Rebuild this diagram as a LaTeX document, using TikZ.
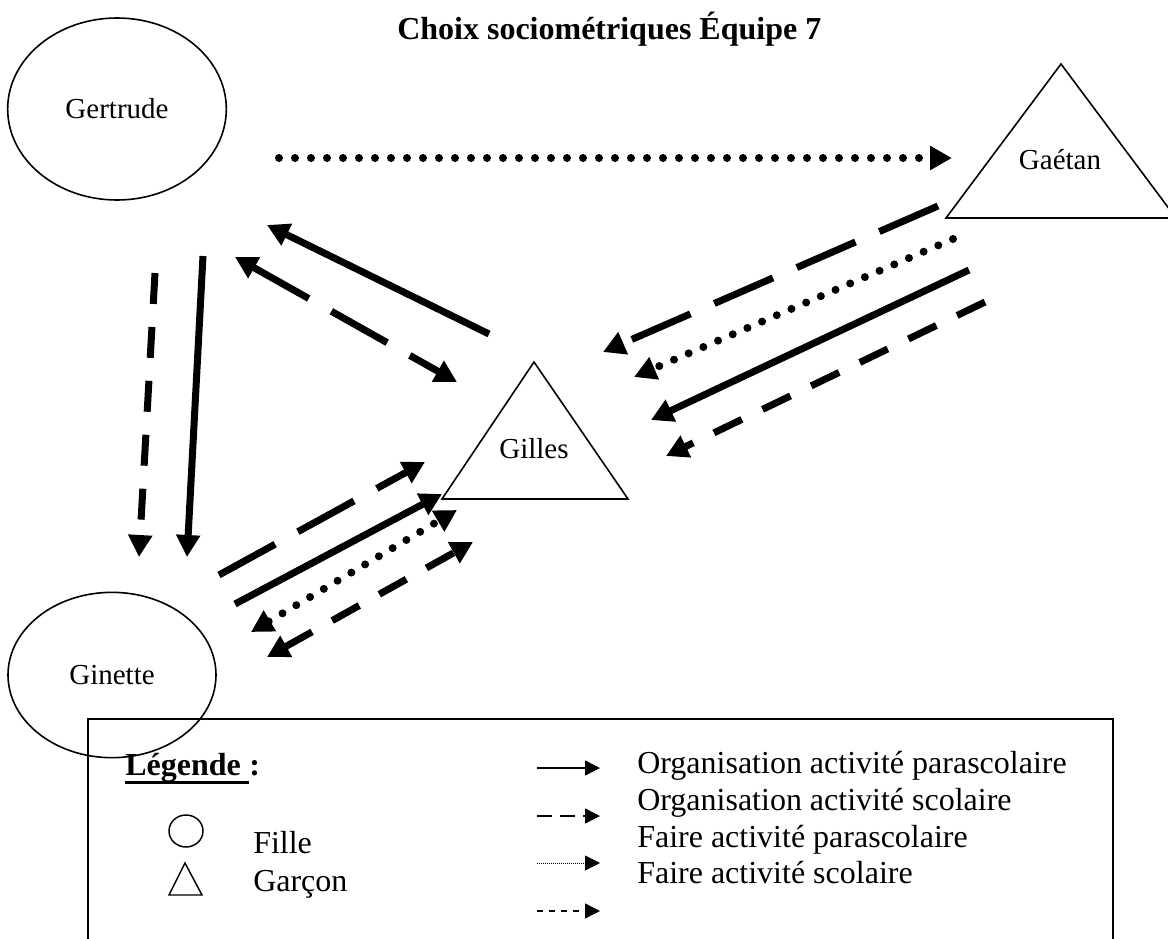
\documentclass[tikz,border=0pt]{standalone}
\usepackage{fontspec}
\setmainfont{Liberation Serif}
\usetikzlibrary{arrows.meta,shapes.geometric}
\tikzset{
  nom/.style={font=\fontsize{21.75}{26}\selectfont, inner sep=0pt},
  fille/.style={nom, draw, ellipse, line width=1.2pt},
  bord/.style={line width=1.2pt, line join=miter},
  texte/.style={anchor=base west, inner sep=0pt, font=\fontsize{24}{27.6}\selectfont},
  gras/.style={texte, font=\bfseries\fontsize{24}{28}\selectfont},
  lien/.style={line width=5.25pt, -{Triangle[length=16.5pt,width=17.25pt]}},
  double/.style={line width=5.25pt, {Triangle[length=16.5pt,width=17.25pt]}-{Triangle[length=16.5pt,width=17.25pt]}},
  tirets/.style={dash pattern=on 48pt off 19.5pt},
  courts/.style={dash pattern=on 23.25pt off 17.25pt},
  points/.style={line width=6pt, line cap=round, dash pattern=on 0pt off 12pt},
  echant/.style={line width=1.1pt, -{Triangle[length=11.25pt,width=11.25pt]}}
}
\begin{document}
\begin{tikzpicture}[x=0.75pt,y=-0.75pt]
  \useasboundingbox (0,0) rectangle (1168,939);
  \node[gras] (titre) at (397,39) {Choix sociométriques Équipe 7};

  % les eleves
  \node[fille, minimum width=164pt, minimum height=136.5pt] (gertrude) at (117,109) {Gertrude};
  \node[fille, minimum width=156pt, minimum height=124pt] (ginette) at (112,675) {Ginette};
  \draw[bord] (534,362) -- (628,499) -- (442,499) -- cycle;
  \node[nom] (gilles) at (534,449) {Gilles};
  \draw[bord] (1061,64) -- (1176,218) -- (946,218) -- cycle;
  \node[nom] (gaetan) at (1060,160) {Gaétan};

  % extremites des fleches
  \coordinate (A1) at (279,158);  \coordinate (B1) at (952,158);
  \coordinate (A2) at (938,206);  \coordinate (B2) at (603,352);
  \coordinate (A3) at (953,239);  \coordinate (B3) at (634,377);
  \coordinate (A4) at (969,270);  \coordinate (B4) at (651,420);
  \coordinate (A5) at (985,302);  \coordinate (B5) at (666,456);
  \coordinate (A6) at (489,334);  \coordinate (B6) at (267,225);
  \coordinate (A7) at (235,257);  \coordinate (B7) at (457,382);
  \coordinate (A8) at (155,273);  \coordinate (B8) at (139,557);
  \coordinate (A9) at (203,256);  \coordinate (B9) at (187,557);
  \coordinate (A10) at (219,575); \coordinate (B10) at (425,462);
  \coordinate (A11) at (235,604); \coordinate (B11) at (442,494);
  \coordinate (A12) at (251,632); \coordinate (B12) at (457,510);
  \coordinate (A13) at (267,657); \coordinate (B13) at (473,542);

  \draw[lien, points] (A1) -- (B1);
  \draw[lien, tirets] (A2) -- (B2);
  \draw[lien, points] (A3) -- (B3);
  \draw[lien] (A4) -- (B4);
  \draw[lien, courts] (A5) -- (B5);
  \draw[lien] (A6) -- (B6);
  \draw[double, tirets] (A7) -- (B7);
  \draw[lien, courts] (A8) -- (B8);
  \draw[lien] (A9) -- (B9);
  \draw[lien, tirets] (A10) -- (B10);
  \draw[lien] (A11) -- (B11);
  \draw[double, points] (A12) -- (B12);
  \draw[double, courts] (A13) -- (B13);

  % legende
  \draw[line width=1.5pt] (88,945) -- (88,719) -- (1113,719) -- (1113,945);
  \node[gras] (legende) at (125,775) {Légende\kern6pt};
  \node[gras] (deuxpts) at (legende.base east) {:};
  \draw[line width=2.2pt] ([yshift=-5.5pt]legende.base west) -- ([yshift=-5.5pt]legende.base east);
  \node[draw, ellipse, line width=1.1pt, inner sep=0pt, minimum width=25.5pt, minimum height=24pt] (rond) at (186,831) {};
  \draw[line width=1.1pt] (185,863) -- (202,895) -- (169,895) -- cycle;
  \node[texte] (tfille) at (253,853) {Fille};
  \node[texte] (tgarcon) at (253,891) {Garçon};

  \draw[echant] (537,768) -- (600,768);
  \draw[echant, dash pattern=on 11.25pt off 6pt] (537,816) -- (600,816);
  \draw[echant, line width=0.75pt, dash pattern=on 0.75pt off 0.75pt] (537,863) -- (600,863);
  \draw[echant, dash pattern=on 4.5pt off 4.5pt] (537,911) -- (600,911);
  \node[texte] (t1) at (637,773) {Organisation activité parascolaire};
  \node[texte] (t2) at (637,810) {Organisation activité scolaire};
  \node[texte] (t3) at (637,847) {Faire activité parascolaire};
  \node[texte] (t4) at (637,883) {Faire activité scolaire};
\end{tikzpicture}
\end{document}
